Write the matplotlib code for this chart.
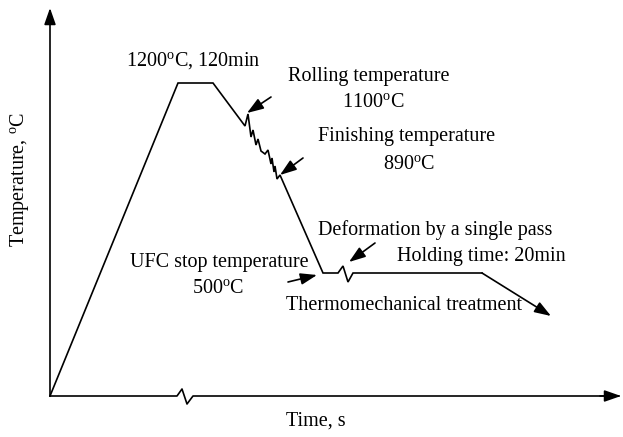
import matplotlib
matplotlib.use('Agg')
import matplotlib.pyplot as plt

plt.rcParams['font.family'] = ['Liberation Serif', 'DejaVu Serif']
plt.rcParams['mathtext.fontset'] = 'custom'
plt.rcParams['mathtext.rm'] = 'Liberation Serif'

# schematic in image pixel units (x to the right, y downwards)
origin = (50, 396)
y_tip = (50, 8)
x_tip = (621, 396)

# heating, holding, rolling with passes, cooling, holding, final cooling
path_x = [50, 178, 213, 245, 248, 251, 253, 256, 258, 261, 265, 268, 271, 272, 274, 275, 277, 280,
          323, 338, 343, 348, 353, 482]
path_y = [396, 83, 83, 126, 114, 137, 130, 145, 139, 151, 154, 150, 164, 158, 172, 166, 179, 175,
          273, 273, 266, 282, 273, 273]
end_arrow = ((482, 273), (551, 316))

# break on the time axis
brk_x = [50, 177, 182, 187, 193, 619]
brk_y = [396, 396, 389, 404, 396, 396]

labels = ['1200$^{\\mathrm{o}}$C, 120min', 'Rolling temperature', '1100$^{\\mathrm{o}}$C',
          'Finishing temperature', '890$^{\\mathrm{o}}$C', 'UFC stop temperature',
          '500$^{\\mathrm{o}}$C', 'Deformation by a single pass', 'Holding time: 20min',
          'Thermomechanical treatment']
label_x = [126, 288, 342, 318, 383, 130, 192, 318, 397, 286]
label_y = [61, 76, 103, 136, 165, 262, 290, 230, 257, 305]

# pointer arrows: (tail, head)
pointers = [((271, 97), (247, 113)),
            ((303, 158), (280, 175)),
            ((288, 282), (317, 275)),
            ((375, 243), (349, 262))]

fig = plt.figure(figsize=(6.23, 4.37), dpi=100)
ax = fig.add_axes([0, 0, 1, 1])
ax.set_xlim(0, 623)
ax.set_ylim(437, 0)
ax.axis('off')

lw = 1.2
head = dict(arrowstyle='-|>,head_length=1.0,head_width=0.35', color='black', lw=lw,
            shrinkA=0, shrinkB=0)

# axes with arrow heads
ax.annotate('', xy=y_tip, xytext=origin, arrowprops=head)
ax.plot(brk_x, brk_y, color='black', lw=lw)
ax.annotate('', xy=x_tip, xytext=(600, 396), arrowprops=head)

ax.plot(path_x, path_y, color='black', lw=lw, solid_joinstyle='miter')
ax.annotate('', xy=end_arrow[1], xytext=end_arrow[0], arrowprops=head)

for (t, h) in pointers:
    ax.annotate('', xy=h, xytext=t, arrowprops=head)

for s, x, y in zip(labels, label_x, label_y):
    ax.text(x, y, s, fontsize=14.5, ha='left', va='center')

ax.text(316, 421, 'Time, s', fontsize=14.5, ha='center', va='center')
ax.text(20, 180, 'Temperature, $^{\\mathrm{o}}$C', fontsize=14.5, ha='center', va='center',
        rotation=90)

fig.savefig('out.png', dpi=100)
